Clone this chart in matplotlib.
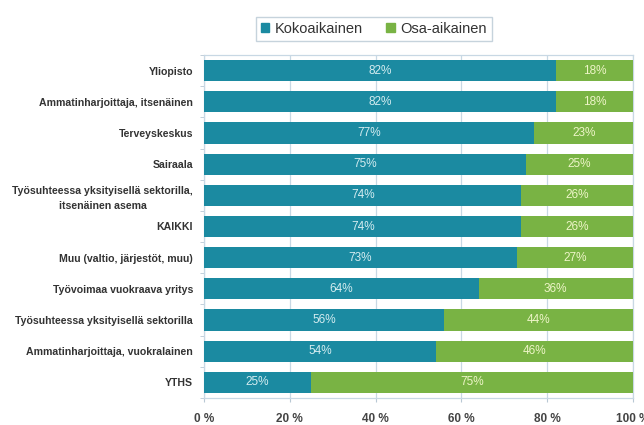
import matplotlib
matplotlib.use("Agg")
import matplotlib.pyplot as plt
from matplotlib.patches import Patch
from matplotlib import font_manager

categories = [
    "Yliopisto",
    "Ammatinharjoittaja, itsenäinen",
    "Terveyskeskus",
    "Sairaala",
    "Työsuhteessa yksityisellä sektorilla,\nitsenäinen asema",
    "KAIKKI",
    "Muu (valtio, järjestöt, muu)",
    "Työvoimaa vuokraava yritys",
    "Työsuhteessa yksityisellä sektorilla",
    "Ammatinharjoittaja, vuokralainen",
    "YTHS",
]
full_time = [82, 82, 77, 75, 74, 74, 73, 64, 56, 54, 25]
part_time = [18, 18, 23, 25, 26, 26, 27, 36, 44, 46, 75]
series_names = ["Kokoaikainen", "Osa-aikainen"]
x_ticks = [0, 20, 40, 60, 80, 100]
x_tick_labels = ["0 %", "20 %", "40 %", "60 %", "80 %", "100 %"]

teal = "#1b8aa1"
green = "#79b344"
text_dark = "#333333"

names = {f.name for f in font_manager.fontManager.ttflist}
narrow = "Liberation Sans Narrow" if "Liberation Sans Narrow" in names else "Liberation Sans"

fig = plt.figure(figsize=(6.44, 4.25), dpi=100)
ax = fig.add_axes([204 / 644, 1 - 398 / 425, 429 / 644, 343 / 425])

y = list(range(len(categories)))
bar_h = 0.68
ax.barh(y, full_time, height=bar_h, color=teal, zorder=3)
ax.barh(y, part_time, left=full_time, height=bar_h, color=green, zorder=3)

for i, (a, b) in enumerate(zip(full_time, part_time)):
    ax.text(a / 2, i, f"{a}%", ha="center", va="center", fontsize=8.5,
            color="#d4ecf0", family=narrow, zorder=4)
    ax.text(a + b / 2, i, f"{b}%", ha="center", va="center", fontsize=8.5,
            color="#eef5c8", family=narrow, zorder=4)

ax.set_xlim(0, 100)
ax.set_ylim(len(categories) - 0.5, -0.5)
ax.set_xticks(x_ticks)
ax.set_xticklabels(x_tick_labels, fontsize=8.5, fontweight="bold",
                   color="#444444", family=narrow)
ax.set_yticks(y)
ax.set_yticklabels(categories, fontsize=7.6, fontweight="bold",
                   color=text_dark, family=narrow, linespacing=1.6,
                   multialignment="center")
ax.tick_params(axis="y", length=0, pad=8)
ax.tick_params(axis="x", length=3, color="#b8c8d4", pad=8)
ax.set_yticks([i + 0.5 for i in range(-1, len(categories))], minor=True)
ax.tick_params(axis="y", which="minor", length=3, color="#b8c8d4")

ax.grid(axis="x", color="#c8d8e4", linewidth=0.9, zorder=0)
for side in ["top", "left", "right", "bottom"]:
    ax.spines[side].set_color("#c8d8e4")
    ax.spines[side].set_linewidth(0.9)

handles = [Patch(color=teal), Patch(color=green)]
leg = fig.legend(handles, series_names, loc="center",
                 bbox_to_anchor=(374 / 644, 1 - 29 / 425), ncol=2,
                 frameon=True, fancybox=False,
                 handlelength=0.55, handleheight=0.55, handletextpad=0.4,
                 columnspacing=1.6, borderpad=0.35,
                 prop={"family": "Liberation Sans", "size": 10.5})
leg.get_frame().set_edgecolor("#b8c8d4")
leg.get_frame().set_linewidth(1.0)
for t in leg.get_texts():
    t.set_color(text_dark)

fig.savefig("out.png", dpi=100)
